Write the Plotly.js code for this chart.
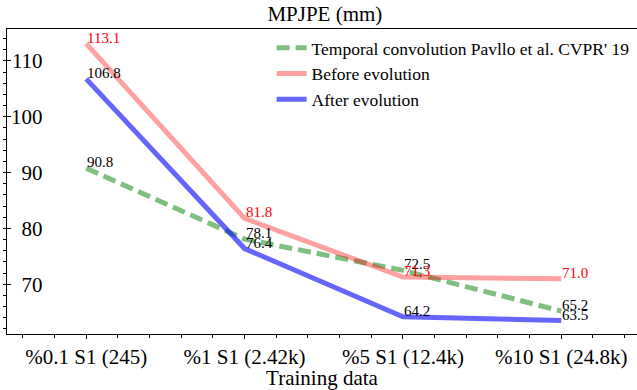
<!DOCTYPE html>
<html>
<head>
<meta charset="utf-8">
<script src="https://cdn.plot.ly/plotly-3.0.1.min.js"></script>
<style>html,body{margin:0;padding:0;background:#fff}#chart{width:637px;height:390px}</style>
</head>
<body>
<div id="chart"></div>
<script>
const categories = ["%0.1 S1 (245)", "%1 S1 (2.42k)", "%5 S1 (12.4k)", "%10 S1 (24.8k)"];
const temporalConv = [90.8, 78.1, 72.5, 65.2];
const beforeEvolution = [113.1, 81.8, 71.3, 71.0];
const afterEvolution = [106.8, 76.4, 64.2, 63.5];
const seriesNames = ["Temporal convolution Pavllo et al. CVPR' 19", "Before evolution", "After evolution"];

const xs = categories.map((c, i) => i);
const FONT = "Liberation Serif";

const traces = [
  {x: xs, y: temporalConv, name: seriesNames[0], mode: "lines",
   line: {color: "rgba(0,128,0,0.5)", width: 5, dash: "13px,6px"}},
  {x: xs, y: beforeEvolution, name: seriesNames[1], mode: "lines",
   line: {color: "rgba(255,0,0,0.37)", width: 5}},
  {x: xs, y: afterEvolution, name: seriesNames[2], mode: "lines",
   line: {color: "rgba(0,0,255,0.6)", width: 5}}
];

const annColors = ["black", "red", "black"];
const annotations = [];
[temporalConv, beforeEvolution, afterEvolution].forEach((arr, s) => {
  arr.forEach((v, i) => {
    annotations.push({x: xs[i], y: v, xref: "x", yref: "y", text: v.toFixed(1),
      showarrow: false, xanchor: "left", yanchor: "bottom", yshift: -4, xshift: -1,
      font: {family: FONT, size: 15, color: annColors[s]}});
  });
});

const layout = {
  width: 637, height: 390,
  margin: {l: 7, r: 0, t: 29, b: 56, autoexpand: false},
  paper_bgcolor: "white", plot_bgcolor: "white",
  font: {family: FONT, color: "black"},
  title: {text: "MPJPE (mm)", font: {family: FONT, size: 21, color: "black"},
          x: 0.51, xanchor: "center", y: 0.965, yanchor: "middle"},
  xaxis: {
    range: [-0.5, 3.478], tickmode: "array", tickvals: xs, ticktext: categories,
    showgrid: false, zeroline: false, showline: true, linecolor: "black", linewidth: 1.2,
    mirror: true, ticks: "outside", ticklen: 4, tickcolor: "black",
    tickfont: {family: FONT, size: 21, color: "black"},
    minor: {tickmode: "linear", tick0: 0, dtick: 0.2, ticks: "outside", ticklen: 3, tickcolor: "black", showgrid: false},
    title: {text: "Training data", font: {family: FONT, size: 21, color: "black"}, standoff: 1}
  },
  yaxis: {
    range: [61.1, 115.73], tick0: 0, dtick: 10,
    showgrid: false, zeroline: false, showline: true, linecolor: "black", linewidth: 1.2,
    ticks: "inside", ticklen: 4, tickcolor: "black",
    ticklabelstandoff: -41,
    tickfont: {family: FONT, size: 21, color: "black"},
    minor: {tick0: 0, dtick: 2, ticks: "outside", ticklen: 3, tickcolor: "black", showgrid: false}
  },
  showlegend: true,
  legend: {x: 0.42, y: 0.997, xanchor: "left", yanchor: "top", bgcolor: "rgba(0,0,0,0)",
           font: {family: FONT, size: 17.5, color: "black"}, tracegroupgap: 0, itemwidth: 30},
  annotations: annotations
};

Plotly.newPlot("chart", traces, layout, {displayModeBar: false, staticPlot: true});
</script>
</body>
</html>
